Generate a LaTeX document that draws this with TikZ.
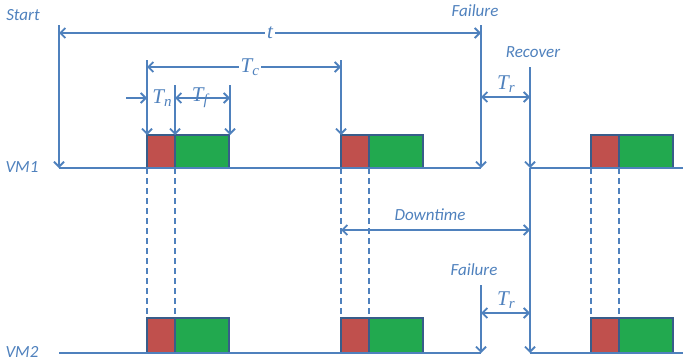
\documentclass[tikz,border=0pt]{standalone}
\usepackage{fontspec}
\setmainfont{Carlito}
\newfontfamily\symfont{Liberation Serif}
\usepackage{tikz}
\usetikzlibrary{arrows.meta,positioning,calc}

\definecolor{lineblue}{HTML}{4F81BD}
\definecolor{edgeblue}{HTML}{385D8A}
\definecolor{nfill}{HTML}{C0504D}
\definecolor{ffill}{HTML}{22A94F}

% T with a subscript, set like the slide's equation font
\newcommand{\tsym}[1]{{\symfont\itshape T\raisebox{-0.35ex}{\fontsize{15}{16}\selectfont #1}}}

\tikzset{
    wire/.style={draw=lineblue, line width=1.8pt},
    guide/.style={draw=lineblue, line width=1.6pt, dashed, dash pattern=on 6pt off 4pt},
    lbl/.style={text=lineblue, font=\fontsize{17}{20}\selectfont\itshape, inner sep=1pt},
    mlbl/.style={text=lineblue, font=\fontsize{21}{22}\selectfont, fill=white, inner sep=2pt},
    nbox/.style={fill=nfill, draw=edgeblue, line width=2.2pt},
    fbox/.style={fill=ffill, draw=edgeblue, line width=2.2pt}
}

\begin{document}
\begin{tikzpicture}[x=1pt, y=-1pt, >={Straight Barb[length=5pt,width=10pt]}]
    \useasboundingbox (0,0) rectangle (683,364);

    % labels
    \node[lbl] (start) at (23,15) {Start};
    \node[lbl] (vm1) at (22,167) {VM1};
    \node[lbl] (vm2) at (22,352) {VM2};
    \node[lbl] (fail1) at (475,11) {Failure};
    \node[lbl] (recover) at (533,52) {Recover};
    \node[lbl] (fail2) at (474,270) {Failure};
    \node[lbl] (down) at (430,215) {Downtime};

    % time points
    \coordinate (S0) at (59,25);
    \coordinate (S1) at (59,168);
    \coordinate (S2) at (59,353);
    \coordinate (F0) at (481,25);
    \coordinate (F1) at (481,168);
    \coordinate (G0) at (481,285);
    \coordinate (F2) at (481,353);
    \coordinate (R0) at (530,67);
    \coordinate (R1) at (530,168);
    \coordinate (R2) at (530,353);
    \coordinate (E1) at (683,168);
    \coordinate (E2) at (683,353);

    % checkpoint boxes
    \foreach \x in {147,341,591}{
        \path[nbox] (\x,135) rectangle (\x+28,168);
        \path[fbox] (\x+28,135) rectangle (\x+82,168);
        \path[nbox] (\x,318) rectangle (\x+28,353);
        \path[fbox] (\x+28,318) rectangle (\x+82,353);
        \path[guide] (\x,168) -- (\x,318);
        \path[guide] (\x+28,168) -- (\x+28,318);
    }

    % time lines
    \path[wire] (S1) -- (F1);
    \path[wire] (R1) -- (E1);
    \path[wire] (S2) -- (F2);
    \path[wire] (R2) -- (E2);

    % events
    \path[wire,->] (S0) -- (S1);
    \path[wire,->] (F0) -- (F1);
    \path[wire,->] (R0) -- (R1);
    \path[wire,->] (R1) -- (R2);
    \path[wire,->] (G0) -- (F2);

    % checkpoint marks
    \coordinate (C0) at (147,60);
    \coordinate (C1) at (147,135);
    \coordinate (D0) at (341,60);
    \coordinate (D1) at (341,135);
    \coordinate (N0) at (175,85);
    \coordinate (N1) at (175,135);
    \coordinate (M0) at (230,85);
    \coordinate (M1) at (230,135);
    \path[wire,->] (C0) -- (C1);
    \path[wire,->] (D0) -- (D1);
    \path[wire,->] (N0) -- (N1);
    \path[wire,->] (M0) -- (M1);

    % intervals
    \path[wire,<->] (59,33) -- node[mlbl] (t) {\symfont\itshape t} (481,33);
    \path[wire,<->] (147,67) -- node[mlbl, pos=0.53] (tc) {\tsym{c}} (341,67);
    \coordinate (tn0) at (126,98);
    \path[wire,->] (tn0) -- (147,98);
    \node[mlbl, fill=none] (tn) at (162,98) {\tsym{n}};
    \path[wire,<->] (175,98) -- node[mlbl, fill=none, pos=0.45] (tf) {\tsym{f}} (230,98);
    \path[wire,<->] (481,97) -- (530,97);
    \node[mlbl, fill=none] (tr1) at (506,84) {\tsym{r}};
    \path[wire,<->] (341,230) -- (530,230);
    \path[wire,<->] (481,313) -- (530,313);
    \node[mlbl, fill=none] (tr2) at (506,300) {\tsym{r}};
\end{tikzpicture}
\end{document}
